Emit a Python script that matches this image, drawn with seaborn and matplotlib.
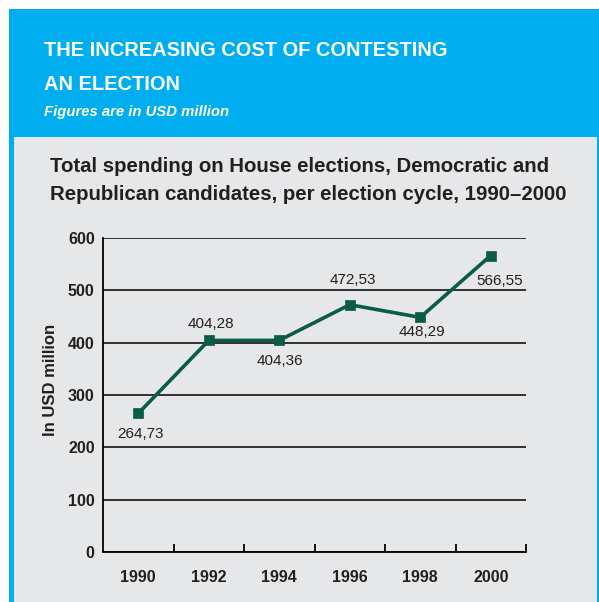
import matplotlib
matplotlib.use("Agg")
import matplotlib.pyplot as plt
from matplotlib.patches import Rectangle
import seaborn as sns

# data
years = ["1990", "1992", "1994", "1996", "1998", "2000"]
spending = [264.73, 404.28, 404.36, 472.53, 448.29, 566.55]
value_labels = ["264,73", "404,28", "404,36", "472,53", "448,29", "566,55"]
label_offsets = [(2, -21), (2, 16), (1, -21), (3, 25), (2, -15), (9, -25)]
y_ticks = [0, 100, 200, 300, 400, 500, 600]

BLUE = "#00aeef"
PANEL = "#e6e7e8"
GREEN = "#0b5c45"
TEXT = "#231f20"

sns.set_theme(style="white")
plt.rcParams["font.family"] = ["Liberation Sans", "DejaVu Sans"]

W, H = 599, 602
fig = plt.figure(figsize=(W / 100, H / 100), dpi=100)
fig.patch.set_facecolor("white")


def box(x, y, w, h, color):
    # pixel box (top-left origin) drawn in figure coords
    fig.add_artist(Rectangle((x / W, 1 - (y + h) / H), w / W, h / H,
                             transform=fig.transFigure, facecolor=color,
                             edgecolor="none", zorder=-10))


def ftext(x, y, s, **kw):
    # text placed by pixel position (top-left origin)
    fig.text(x / W, 1 - y / H, s, va="center", ha="left", **kw)


box(9, 9, 590, 593, BLUE)
box(14, 137, 583, 465, PANEL)

ftext(44, 50, "THE INCREASING COST OF CONTESTING", color="white",
      fontsize=14.4, fontweight="bold")
ftext(44, 84, "AN ELECTION", color="white", fontsize=14.4, fontweight="bold")
ftext(44, 112, "Figures are in USD million", color="white", fontsize=10.7,
      fontstyle="italic", fontweight="bold")
ftext(50, 167, "Total spending on House elections, Democratic and",
      color=TEXT, fontsize=14.7, fontweight="bold")
ftext(50, 194, "Republican candidates, per election cycle, 1990\u20132000",
      color=TEXT, fontsize=14.7, fontweight="bold")

ax = fig.add_axes([103 / W, 1 - 552 / H, 423 / W, 314 / H])
ax.set_facecolor("none")

sns.pointplot(x=years, y=spending, color=GREEN, markers="s", markersize=6,
              linewidth=2.6, ax=ax)

for i, (v, lab, off) in enumerate(zip(spending, value_labels, label_offsets)):
    ax.annotate(lab, (i, v), xytext=off, textcoords="offset pixels",
                ha="center", va="center", fontsize=11, color=TEXT)

ax.set_xlim(-0.5, 5.5)
ax.set_ylim(0, 600)
ax.set_yticks(y_ticks)
ax.yaxis.grid(True, color="black", linewidth=1.1)
ax.set_axisbelow(True)
ax.tick_params(axis="y", length=0, pad=6, labelsize=11.5, labelcolor=TEXT)
for t in ax.get_yticklabels():
    t.set_fontweight("bold")
ax.set_xticks(range(len(years)))
ax.set_xticklabels(years, fontweight="bold")
ax.set_xticks([0.5, 1.5, 2.5, 3.5, 4.5, 5.5], minor=True)
ax.tick_params(axis="x", which="major", bottom=False, length=0, pad=13,
               labelsize=11.5, labelcolor=TEXT)
ax.tick_params(axis="x", which="minor", bottom=True, direction="in", length=6,
               width=1.3, color="black")
ax.set_xlabel("")
ax.set_ylabel("In USD million", fontsize=12, fontweight="bold", color=TEXT)
ax.yaxis.set_label_coords(-45 / 423, (552 - 380) / 314)

for s in ["top", "right"]:
    ax.spines[s].set_visible(False)
for s in ["left", "bottom"]:
    ax.spines[s].set_color("black")
    ax.spines[s].set_linewidth(1.3)

fig.savefig("out.png", dpi=100, facecolor=fig.get_facecolor())
